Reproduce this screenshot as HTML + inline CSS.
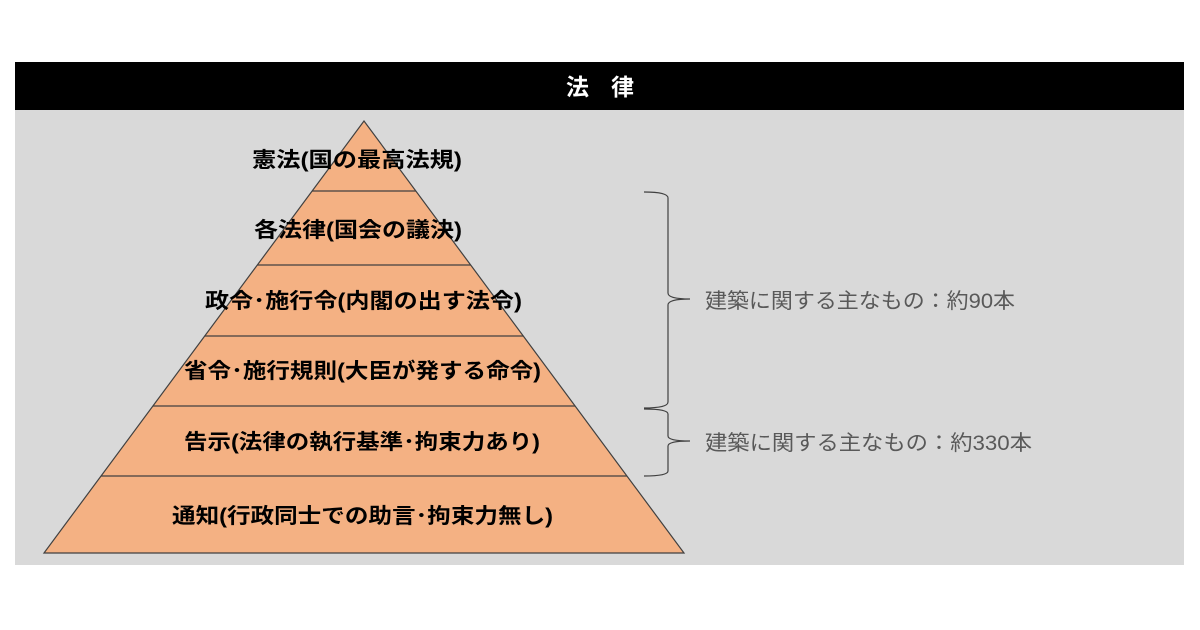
<!DOCTYPE html>
<html><head><meta charset="utf-8"><style>
body{margin:0;background:#fff;}
svg{display:block}
text{font-family:"Liberation Sans","Noto Sans CJK JP",sans-serif;}
</style></head><body>
<svg width="1200" height="630" viewBox="0 0 1200 630" xmlns="http://www.w3.org/2000/svg">
<rect x="0" y="0" width="1200" height="630" fill="#fff"/>
<rect x="15" y="110" width="1169" height="455" fill="#d9d9d9"/>
<rect x="15" y="62" width="1169" height="48" fill="#000"/>
<text x="566" y="95" fill="#fff" font-size="23" font-weight="bold" textLength="68" lengthAdjust="spacing">法律</text>
<polygon points="364,121 44,553 684,553" fill="#f4b183" stroke="#404040" stroke-width="1.2"/>
<g stroke="#404040" stroke-width="1.2">
<line x1="312.1" y1="191" x2="415.9" y2="191"/>
<line x1="257.3" y1="265" x2="470.7" y2="265"/>
<line x1="204.7" y1="336" x2="523.3" y2="336"/>
<line x1="152.9" y1="406" x2="575.1" y2="406"/>
<line x1="101.0" y1="476" x2="627.0" y2="476"/>
</g>
<g font-size="21" font-weight="bold" fill="#000" lengthAdjust="spacingAndGlyphs">
<text x="252" y="167" textLength="210" lengthAdjust="spacingAndGlyphs">憲法(国の最高法規)</text>
<text x="254" y="237" textLength="208" lengthAdjust="spacingAndGlyphs">各法律(国会の議決)</text>
<text x="205" y="308" textLength="317" lengthAdjust="spacingAndGlyphs">政令･施行令(内閣の出す法令)</text>
<text x="184" y="378" textLength="357" lengthAdjust="spacingAndGlyphs">省令･施行規則(大臣が発する命令)</text>
<text x="184" y="449" textLength="356" lengthAdjust="spacingAndGlyphs">告示(法律の執行基準･拘束力あり)</text>
<text x="172" y="523" textLength="381" lengthAdjust="spacingAndGlyphs">通知(行政同士での助言･拘束力無し)</text>
</g>
<g fill="none" stroke="#404040" stroke-width="1.2">
<path d="M644,192 Q668,192 668,198 L668,293 Q668,299 690,299 Q668,299 668,305 L668,402 Q668,408 644,408"/>
<path d="M644,409 Q668,409 668,414 L668,436 Q668,441 690,441 Q668,441 668,446 L668,471 Q668,476 644,476"/>
</g>
<g font-size="21" fill="#595959">
<text x="705" y="308" textLength="310" lengthAdjust="spacingAndGlyphs">建築に関する主なもの：約90本</text>
<text x="705" y="450" textLength="327" lengthAdjust="spacingAndGlyphs">建築に関する主なもの：約330本</text>
</g>
</svg>
</body></html>
